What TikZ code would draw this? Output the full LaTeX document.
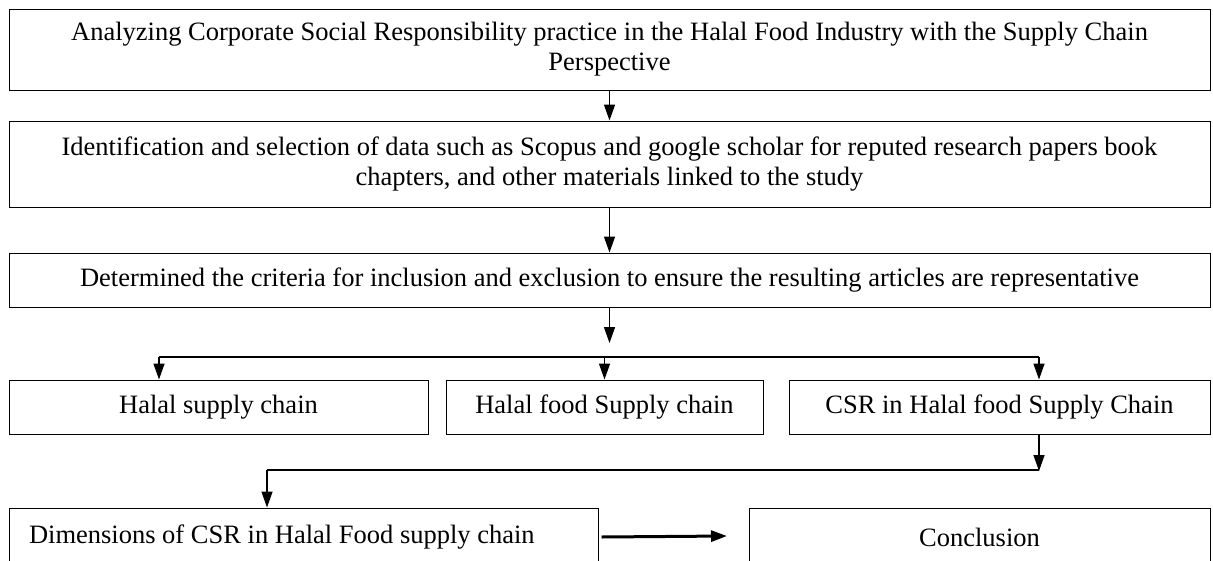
\documentclass[tikz,border=0pt]{standalone}
\usepackage{fontspec}
\setmainfont{Liberation Serif}
\usetikzlibrary{arrows.meta}

\begin{document}
\begin{tikzpicture}[x=1pt,y=-1pt,
    box/.style={draw,line width=1pt,align=center,inner sep=0pt,
      font=\fontsize{26.5}{30}\selectfont},
    >={Triangle[width=11pt,length=16pt]},
    link/.style={->,line width=1.4pt},
    bar/.style={line width=1.4pt}]
  \useasboundingbox (0,0) rectangle (1213,560);

  \node[box,minimum width=1201,minimum height=81] (topic) at (609.5,49.5)
    {Analyzing Corporate Social Responsibility practice in the Halal Food Industry with the Supply Chain\\Perspective};
  \node[box,minimum width=1201,minimum height=86] (ident) at (609.5,164)
    {Identification and selection of data such as Scopus and google scholar for reputed research papers book\\chapters, and other materials linked to the study};
  \node[box,minimum width=1201,minimum height=54] (crit) at (609.5,280)
    {Determined the criteria for inclusion and exclusion to ensure the resulting articles are representative};

  \node[box,minimum width=419,minimum height=54] (hsc) at (218.5,407) {Halal supply chain};
  \node[box,minimum width=317,minimum height=54] (hfsc) at (604.5,407) {Halal food Supply chain};
  \node[box,minimum width=421,minimum height=54] (csr) at (999.5,407) {CSR in Halal food Supply Chain};

  \node[box,minimum width=589,minimum height=58,text width=549,align=flush left,inner xsep=20]
    (dims) at (303.5,537) {Dimensions of CSR in Halal Food supply chain};
  \node[box,minimum width=461,minimum height=58] (concl) at (979.5,537) {Conclusion};

  % joints
  \coordinate (crittip) at (609.5,343);
  \coordinate (bl) at (159,357);
  \coordinate (br) at (1039,357);
  \coordinate (jr) at (1039,471);
  \coordinate (jl) at (267,470);
  \coordinate (cin) at (727,536);

  \draw[link] (topic.south) -- (ident.north);
  \draw[link] (ident.south) -- (ident.south |- crit.north);
  \draw[link] (crit.south) -- (crittip);

  \draw[bar] (bl) -- (br);
  \draw[link] (bl) -- (bl |- hsc.north);
  \draw[link] (hfsc.north |- bl) -- (hfsc.north);
  \draw[link] (br) -- (br |- csr.north);

  \draw[link] (br |- csr.south) -- (jr);
  \draw[bar] (jr |- jl) -- (jl);
  \draw[link] (jl) -- (jl |- dims.north);

  \draw[->,line width=3pt] ([xshift=3]dims.east) -- (cin);
\end{tikzpicture}
\end{document}
